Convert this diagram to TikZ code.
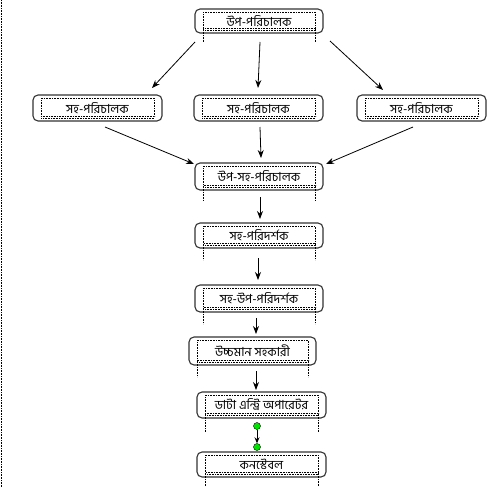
\documentclass[tikz,border=0pt]{standalone}
\usepackage{fontspec}
\newfontfamily\bn[Script=Bengali]{Hind Siliguri}
\usetikzlibrary{arrows.meta,calc}
\tikzset{
  box/.style={draw=black!80, line width=1.1pt, rounded corners=5pt, fill=white,
    minimum width=128pt, minimum height=25pt, inner sep=0pt,
    font=\bn\fontsize{12.5}{14}\selectfont, text=black},
  arr/.style={draw=black, line width=0.8pt, -{Stealth[length=8pt,width=6pt]}},
  dotl/.style={draw=black, line width=0.6pt, densely dotted},
  gdot/.style={circle, draw=black, line width=0.4pt, fill=green!90!black, minimum size=7pt, inner sep=0pt}
}
\newcommand{\txtframe}[2]{%
  \draw[dotl] ($(#1.north west)+(9pt,-4pt)$) rectangle ($(#1.south east)+(-8pt,5pt)$);
  \draw[dotl] ($(#1.south west)+(9pt,3.5pt)$) -- ($(#1.south east)+(-8pt,3.5pt)$);
  \ifnum#2>0
  \draw[dotl] ($(#1.south west)+(9pt,5pt)$) -- ($(#1.south west)+(9pt,-#2pt)$);
  \draw[dotl] ($(#1.south east)+(-8pt,5pt)$) -- ($(#1.south east)+(-8pt,-#2pt)$);
  \fi
}
\begin{document}
\begin{tikzpicture}[x=1pt,y=-1pt]
\useasboundingbox (0,0) rectangle (493,487);
\draw[dotl] (1,0) -- (1,487);

\node[box, minimum height=24pt] (top) at (259,21) {উপ-পরিচালক};
\node[box, minimum width=129pt, minimum height=26pt] (ra) at (97.5,108) {সহ-পরিচালক};
\node[box, minimum width=129pt, minimum height=26pt] (rb) at (258.5,108) {সহ-পরিচালক};
\node[box, minimum width=129pt, minimum height=26pt] (rc) at (421.5,108) {সহ-পরিচালক};
\node[box, minimum height=27pt] (b3) at (259,176.5) {উপ-সহ-পরিচালক};
\node[box, minimum height=25pt] (b4) at (259,235.5) {সহ-পরিদর্শক};
\node[box, minimum height=27pt] (b5) at (259,298.5) {সহ-উপ-পরিদর্শক};
\node[box, minimum width=127pt, minimum height=28pt] (b6) at (252.5,351) {উচ্চমান সহকারী};
\node[box, minimum width=129pt, minimum height=26pt] (b7) at (261.5,405) {ডাটা এন্ট্রি অপারেটর};
\node[box, minimum width=129pt, minimum height=25pt] (b8) at (261.5,464.5) {কনস্টেবল};

\txtframe{top}{8}
\txtframe{ra}{0}
\txtframe{rb}{0}
\txtframe{rc}{0}
\txtframe{b3}{10}
\txtframe{b4}{11}
\txtframe{b5}{11}
\txtframe{b6}{11}
\txtframe{b7}{14}
\txtframe{b8}{14}

% arrows row 1
\coordinate (t1) at (195,42);  \coordinate (e1) at (152,88);
\coordinate (t2) at (260,42);  \coordinate (e2) at (258,88);
\coordinate (t3) at (330,41);  \coordinate (e3) at (383,90);
\draw[arr] (t1) -- (e1);
\draw[arr] (t2) -- (e2);
\draw[arr] (t3) -- (e3);
% arrows row 2
\coordinate (s1) at (105,127); \coordinate (f1) at (194,164);
\coordinate (s2) at (260,127); \coordinate (f2) at (261,158);
\coordinate (s3) at (413,127); \coordinate (f3) at (326,164);
\draw[arr] (s1) -- (f1);
\draw[arr] (s2) -- (f2);
\draw[arr] (s3) -- (f3);
% vertical chain
\draw[arr] (260,197) -- (260,219);
\draw[arr] (258,258) -- (258,280);
\draw[arr] (256,318) -- (256,334);
\draw[arr] (256,371) -- (256,390);

\node[gdot] (g1) at (257,426) {};
\node[gdot] (g2) at (257,447) {};
\draw[draw=black, line width=0.8pt, -{Stealth[length=6pt,width=5pt]}] (g1.south) -- (g2.north);
\end{tikzpicture}
\end{document}
